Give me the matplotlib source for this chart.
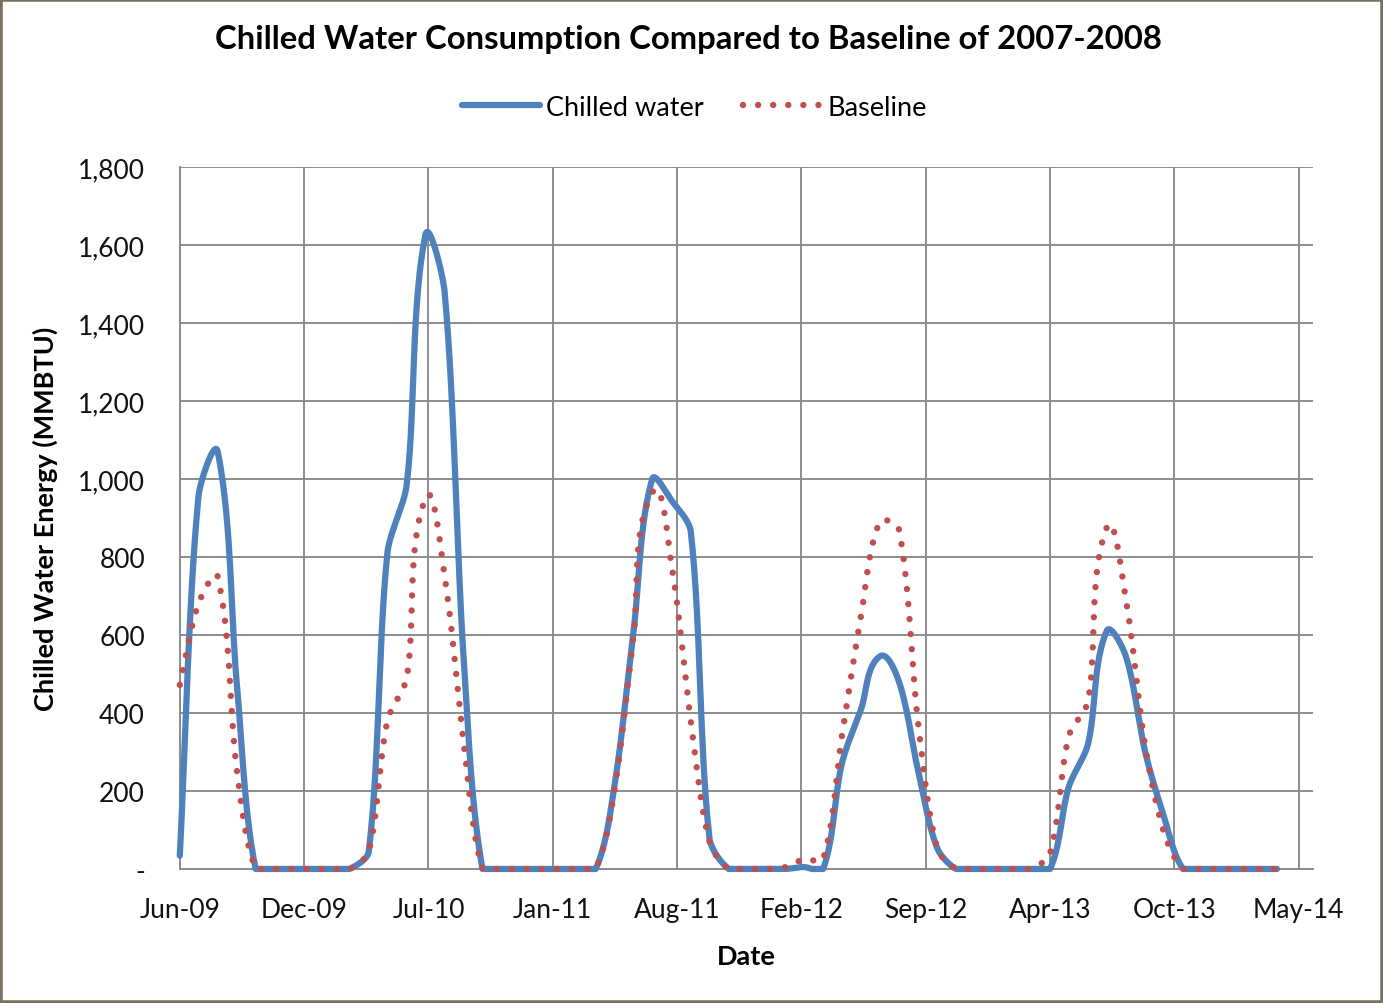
import datetime as dt
import numpy as np
import matplotlib
matplotlib.use('Agg')
import matplotlib.pyplot as plt
import matplotlib.dates as mdates
from matplotlib.ticker import FuncFormatter, FixedLocator
from matplotlib.patches import Rectangle

plt.rcParams['font.family'] = ['Lato', 'DejaVu Sans']

# monthly readings, Jun-09 .. Apr-14
months = [dt.date(2009 + (5 + i) // 12, (5 + i) % 12 + 1, 1) for i in range(59)]

chilled = [34, 955, 1070, 470, 0, 0, 0,
           0, 0, 0, 45, 810, 985, 1625, 1480, 530, 0, 0, 0,
           0, 0, 0, 0, 210, 610, 1000, 945, 865, 80, 0, 0,
           0, 0, 5, 0, 270, 410, 545, 480, 250, 55, 0, 0,
           0, 0, 0, 0, 210, 320, 610, 545, 300, 135, 0, 0,
           0, 0, 0, 0]

baseline = [472, 680, 750, 250, 0, 0, 0,
            0, 0, 0, 45, 380, 490, 950, 750, 320, 0, 0, 0,
            0, 0, 0, 0, 200, 600, 965, 780, 380, 70, 0, 0,
            0, 5, 25, 25, 340, 650, 890, 870, 370, 55, 0, 0,
            0, 0, 0, 40, 340, 430, 875, 690, 315, 95, 0, 0,
            0, 0, 0, 0]

y_ticks = [0, 200, 400, 600, 800, 1000, 1200, 1400, 1600, 1800]


def smooth(ax, x, y, n=30, k=0.3):
    # excel-like smoothed line, bezier built in screen space
    p = ax.transData.transform(np.column_stack([x, y]))
    p = np.vstack([p[0], p, p[-1]])
    t = np.linspace(0, 1, n, endpoint=False)[:, None]
    out = []
    for i in range(1, len(p) - 2):
        a, b = p[i], p[i + 1]
        d = np.hypot(*(b - a))
        t0 = p[i + 1] - p[i - 1]
        t1 = p[i + 2] - p[i]
        t0 = t0 / (np.hypot(*t0) or 1)
        t1 = t1 / (np.hypot(*t1) or 1)
        c1 = a + t0 * d * k
        c2 = b - t1 * d * k
        out.append((1 - t) ** 3 * a + 3 * (1 - t) ** 2 * t * c1
                   + 3 * (1 - t) * t ** 2 * c2 + t ** 3 * b)
    out.append(p[-2][None, :])
    q = ax.transData.inverted().transform(np.vstack(out))
    return q[:, 0], np.maximum(q[:, 1], 0)


xnum = mdates.date2num(months)

fig = plt.figure(figsize=(13.83, 10.04), dpi=100)
ax = fig.add_axes([0.130, 0.1335, 0.8194, 0.6992])

start = mdates.date2num(dt.date(2009, 6, 1))
ax.set_xlim(start, start + 1823)
ax.set_ylim(0, 1800)

sx, sy = smooth(ax, xnum, chilled)
l1, = ax.plot(sx, sy, color='#4F81BD', lw=4.5, solid_capstyle='round',
              label='Chilled water', zorder=3, clip_on=False)
sx, sy = smooth(ax, xnum, baseline)
l2, = ax.plot(sx, sy, color='#C0504D', lw=4.6, linestyle=(0, (0.01, 2.35)),
              dash_capstyle='round', label='Baseline', zorder=4, clip_on=False)

ax.xaxis.set_major_locator(FixedLocator([start + 200 * k for k in range(10)]))
ax.xaxis.set_major_formatter(mdates.DateFormatter('%b-%y'))
ax.set_yticks(y_ticks)
ax.yaxis.set_major_formatter(FuncFormatter(lambda v, p: '-' if v == 0 else f'{v:,.0f}'))

ax.grid(True, color='#8c8c8c', lw=1.4)
ax.set_axisbelow(True)
for s in ['top', 'right']:
    ax.spines[s].set_visible(False)
for s in ['left', 'bottom']:
    ax.spines[s].set_color('#8c8c8c')
    ax.spines[s].set_linewidth(1.4)
ax.tick_params(length=0, labelsize=19, labelcolor='#111111')
ax.tick_params(axis='x', pad=20)
ax.tick_params(axis='y', pad=25)

ax.set_xlabel('Date', fontsize=19.5, fontweight='bold', labelpad=16)
ax.set_ylabel('Chilled Water Energy (MMBTU)', fontsize=19.5, fontweight='bold', labelpad=14)

fig.suptitle('Chilled Water Consumption Compared to Baseline of 2007-2008',
             x=0.498, y=0.961, va='center', fontsize=23.7, fontweight='bold')

fig.legend([l1, l2], ['Chilled water', 'Baseline'], loc='center', bbox_to_anchor=(0.502, 0.892),
           ncol=2, frameon=False, fontsize=19.5, handlelength=2.9,
           handletextpad=0.22, columnspacing=1.45)

fig.patches.append(Rectangle((0, 0), 1, 1, transform=fig.transFigure, fill=False,
                             edgecolor='#7a705f', lw=4, zorder=10))

fig.savefig('out.png', dpi=100)
